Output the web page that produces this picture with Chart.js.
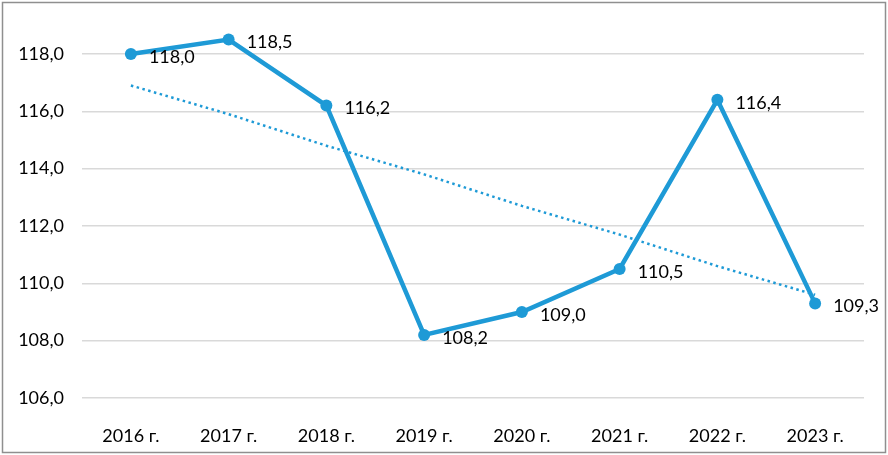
<!DOCTYPE html>
<html>
<head>
<meta charset="utf-8">
<script src="https://cdn.jsdelivr.net/npm/chart.js@4"></script>
<style>
  html, body { margin: 0; padding: 0; background: #fff; }
  #wrap { width: 888px; height: 455px; position: relative; }
</style>
</head>
<body>
<div id="wrap"><canvas id="myChart"></canvas></div>
<script>
let years = ['2016 г.', '2017 г.', '2018 г.', '2019 г.', '2020 г.', '2021 г.', '2022 г.', '2023 г.'];
let values = [118.0, 118.5, 116.2, 108.2, 109.0, 110.5, 116.4, 109.3];
// dotted trend line
let trend = [116.9, 115.9, 114.8, 113.8, 112.7, 111.7, 110.6, 109.6];
let yTicks = [106, 108, 110, 112, 114, 116, 118];

let blue = '#1e9ad6';
let fmt = v => v.toFixed(1).replace('.', ',');

// gray frame around the whole picture
let frame = {
    id: 'frame',
    afterDraw(chart) {
        let c = chart.ctx;
        c.save();
        c.strokeStyle = '#8f8f8f';
        c.lineWidth = 1.5;
        c.strokeRect(2.5, 2.5, 883, 450);
        c.restore();
    }
};

// value labels to the right of each point
let valueLabels = {
    id: 'valueLabels',
    afterDatasetsDraw(chart) {
        let c = chart.ctx;
        let meta = chart.getDatasetMeta(0);
        c.save();
        c.font = '18px Lato';
        c.fillStyle = '#000';
        c.textAlign = 'left';
        c.textBaseline = 'middle';
        meta.data.forEach((pt, i) => {
            c.fillText(fmt(values[i]), pt.x + 18, pt.y + 3);
        });
        c.restore();
    }
};

let myChart = document.getElementById('myChart').getContext('2d');

let newChart = new Chart(myChart, {
    type: 'line',
    data: {
        labels: years,
        datasets: [{
            data: values,
            borderColor: blue,
            backgroundColor: blue,
            borderWidth: 4.5,
            pointRadius: 6,
            pointBorderWidth: 0,
            tension: 0
        }, {
            data: trend,
            borderColor: blue,
            borderWidth: 2.5,
            borderDash: [2.5, 3.5],
            pointRadius: 0,
            tension: 0
        }]
    },
    options: {
        responsive: true,
        maintainAspectRatio: false,
        animation: false,
        clip: false,
        layout: { padding: { top: 31, left: 10, right: 24, bottom: 7 } },
        plugins: {
            legend: { display: false },
            tooltip: { enabled: false }
        },
        scales: {
            x: {
                offset: true,
                grid: { display: false },
                border: { display: false },
                ticks: { color: '#000', font: { family: 'Lato', size: 18 }, padding: 19, maxRotation: 0 },
                afterFit: s => { s.height = 50; }
            },
            y: {
                min: 106,
                max: 118.8,
                afterBuildTicks: s => { s.ticks = yTicks.map(v => ({ value: v })); },
                grid: { color: '#d9d9d9', lineWidth: 1.5, drawTicks: false },
                border: { display: false },
                ticks: { color: '#000', font: { family: 'Lato', size: 18 }, padding: 18, callback: v => fmt(v) },
                afterFit: s => { s.width = 72; }
            }
        }
    },
    plugins: [frame, valueLabels]
});
</script>
</body>
</html>
